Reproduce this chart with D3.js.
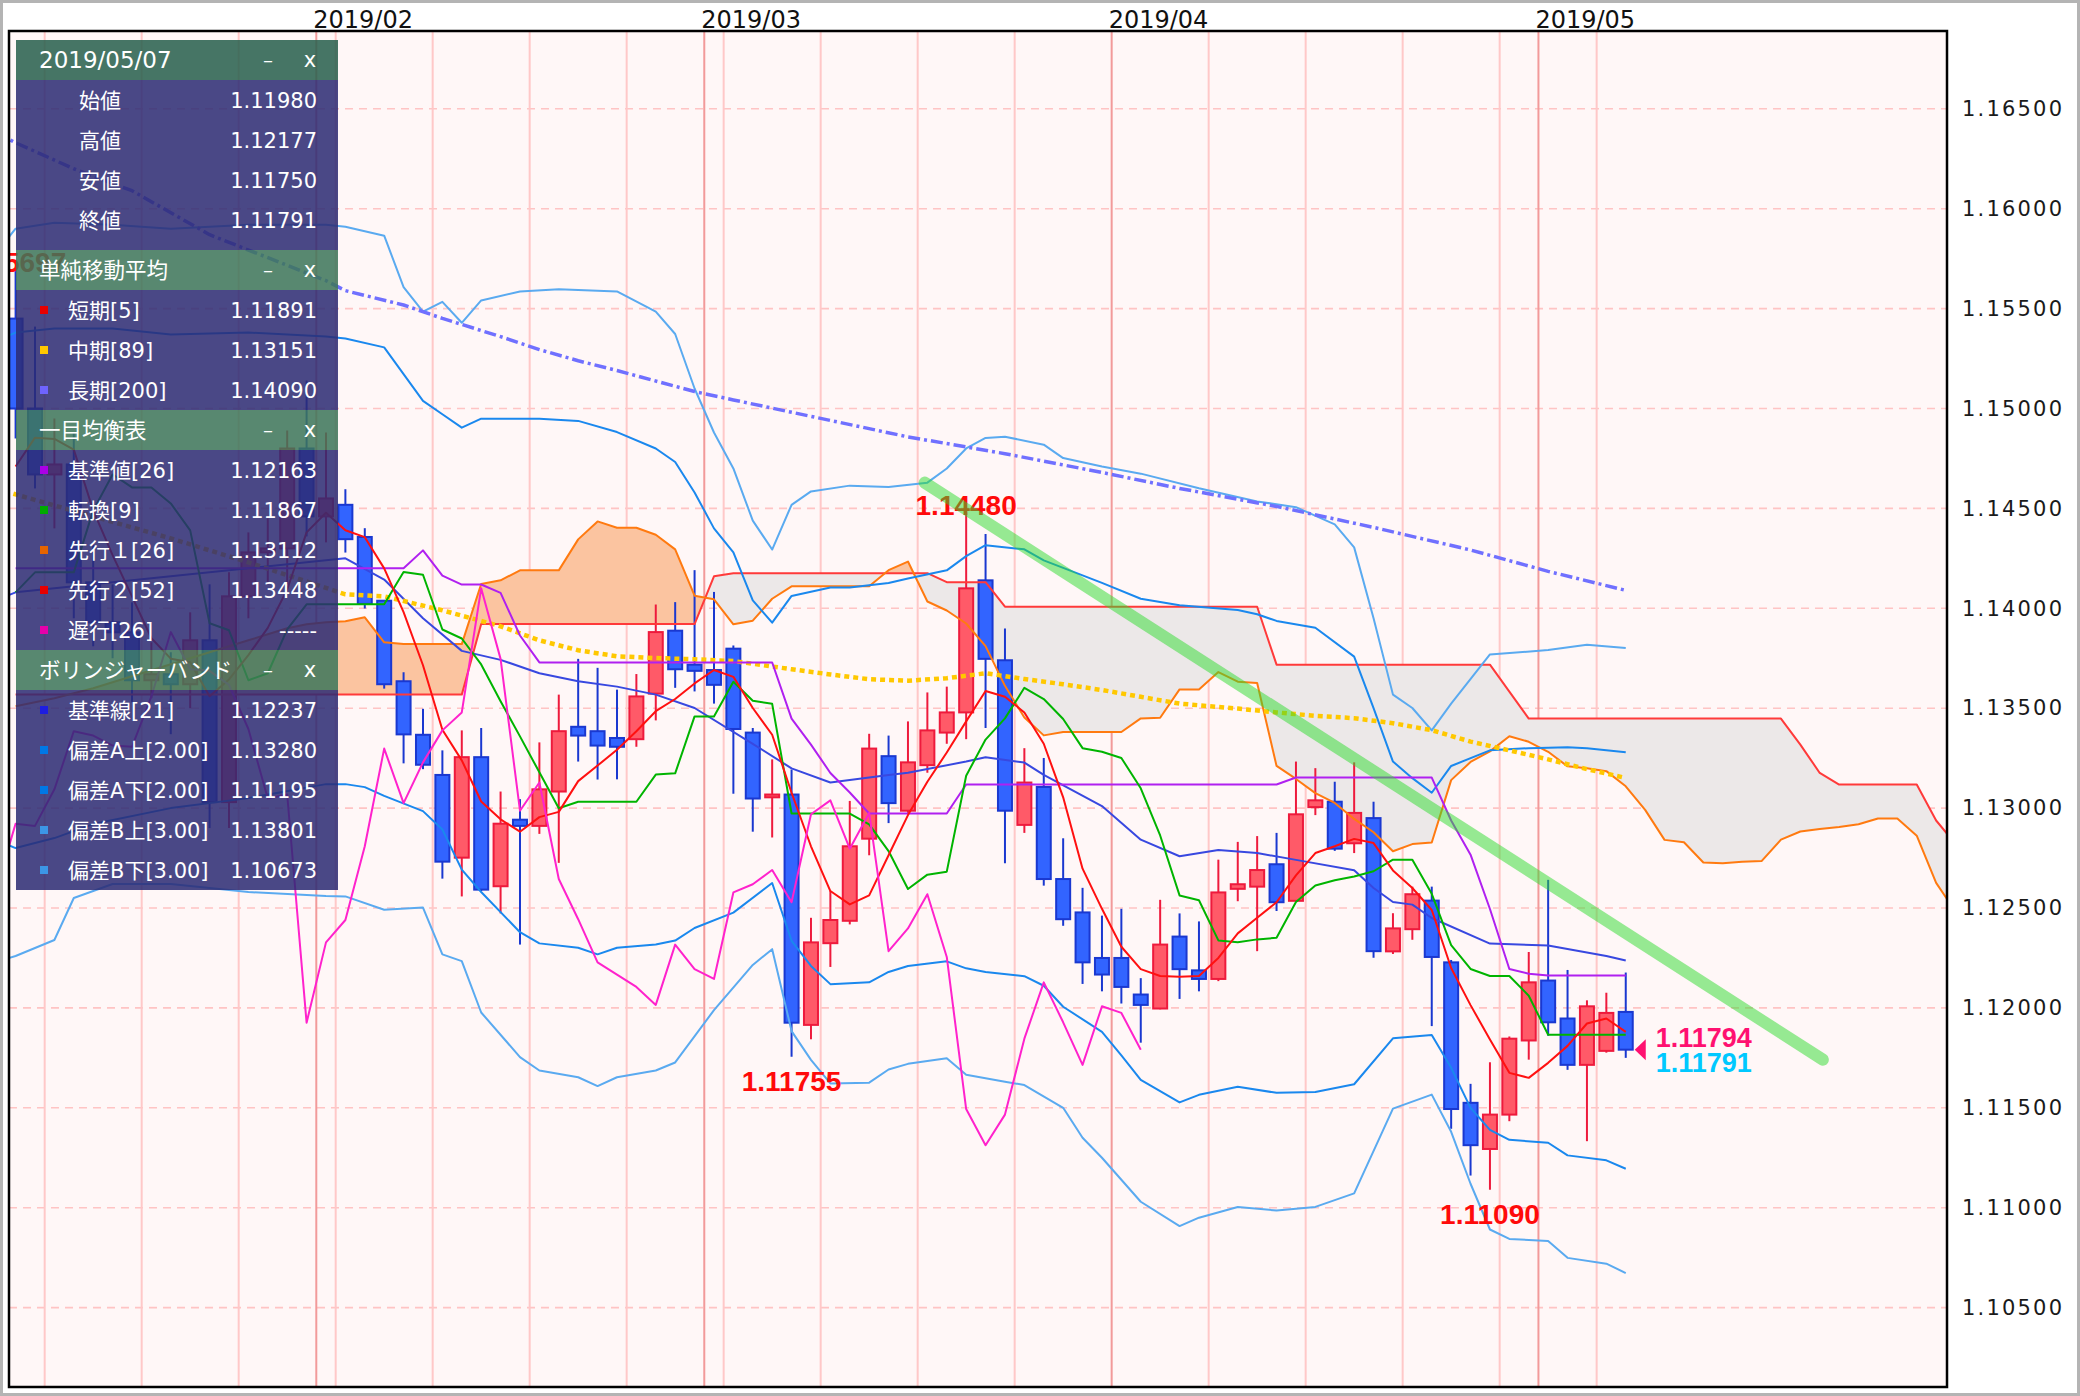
<!DOCTYPE html>
<html>
<head>
<meta charset="utf-8">
<script src="https://cdn.jsdelivr.net/npm/d3@7/dist/d3.min.js"></script>
<style>
html,body{margin:0;padding:0;background:#ffffff;overflow:hidden;}
svg{display:block;}
</style>
</head>
<body>
<svg id="chart" width="2080" height="1396"></svg>
<script>
// ================= DATA =================
const dates = ["2019/01/10","2019/01/11","2019/01/14","2019/01/15","2019/01/16","2019/01/17","2019/01/18","2019/01/21","2019/01/22","2019/01/23","2019/01/24","2019/01/25","2019/01/28","2019/01/29","2019/01/30","2019/01/31","2019/02/01","2019/02/04","2019/02/05","2019/02/06","2019/02/07","2019/02/08","2019/02/11","2019/02/12","2019/02/13","2019/02/14","2019/02/15","2019/02/18","2019/02/19","2019/02/20","2019/02/21","2019/02/22","2019/02/25","2019/02/26","2019/02/27","2019/02/28","2019/03/01","2019/03/04","2019/03/05","2019/03/06","2019/03/07","2019/03/08","2019/03/11","2019/03/12","2019/03/13","2019/03/14","2019/03/15","2019/03/18","2019/03/19","2019/03/20","2019/03/21","2019/03/22","2019/03/25","2019/03/26","2019/03/27","2019/03/28","2019/03/29","2019/04/01","2019/04/02","2019/04/03","2019/04/04","2019/04/05","2019/04/08","2019/04/09","2019/04/10","2019/04/11","2019/04/12","2019/04/15","2019/04/16","2019/04/17","2019/04/18","2019/04/19","2019/04/22","2019/04/23","2019/04/24","2019/04/25","2019/04/26","2019/04/29","2019/04/30","2019/05/01","2019/05/02","2019/05/03","2019/05/06","2019/05/07"];

const opens = [1.15450,1.15000,1.14670,1.14720,1.14130,1.13930,1.13880,1.13640,1.13670,1.13620,
1.13840,1.13030,1.14060,1.14280,1.14300,1.14800,1.14460,1.14518,1.14357,1.14038,
1.13635,1.13367,1.13166,1.12752,1.13255,1.12609,1.12942,1.12911,1.13083,1.13407,
1.13385,1.13351,1.13345,1.13573,1.13888,1.13718,1.13691,1.13798,1.13378,1.13054,
1.13068,1.11915,1.12324,1.12436,1.12847,1.13260,1.12987,1.13215,1.13378,1.13479,
1.14140,1.13740,1.12916,1.13106,1.12645,1.12478,1.12250,1.12250,1.12067,1.11997,
1.12357,1.12188,1.12145,1.12596,1.12607,1.12719,1.12536,1.13005,1.13032,1.12824,
1.12950,1.12283,1.12394,1.12537,1.12228,1.11525,1.11294,1.11466,1.11837,1.12137,
1.11947,1.11715,1.11785,1.11980];

const highs = [1.15697,1.15410,1.14950,1.14880,1.14330,1.14120,1.14030,1.13830,1.13780,1.13980,
1.14120,1.14180,1.14380,1.14450,1.14890,1.15140,1.14880,1.14596,1.14401,1.14040,
1.13680,1.13497,1.13289,1.13389,1.13401,1.13083,1.13045,1.13329,1.13568,1.13747,
1.13702,1.13593,1.13671,1.14019,1.14031,1.14191,1.14082,1.13814,1.13401,1.13244,
1.13193,1.12451,1.12585,1.13036,1.13372,1.13363,1.13434,1.13579,1.13608,1.14480,
1.14372,1.13899,1.13300,1.13251,1.12849,1.12601,1.12462,1.12496,1.12149,1.12541,
1.12473,1.12433,1.12742,1.12831,1.12860,1.12876,1.13233,1.13200,1.13132,1.13229,
1.13032,1.12474,1.12607,1.12607,1.12240,1.11620,1.11728,1.11857,1.12280,1.12641,
1.12190,1.12038,1.12076,1.12177];

const lows = [1.14850,1.14600,1.14400,1.13950,1.13810,1.13750,1.13530,1.13550,1.13370,1.13500,
1.12900,1.12900,1.13950,1.14120,1.14120,1.14360,1.14330,1.14279,1.13999,1.13598,
1.13224,1.13195,1.12647,1.12558,1.12585,1.12473,1.12317,1.12871,1.12726,1.13233,
1.13143,1.13144,1.13307,1.13439,1.13602,1.13584,1.13523,1.13072,1.12882,1.12853,
1.11755,1.11843,1.12205,1.12418,1.12764,1.12925,1.12976,1.13177,1.13322,1.13345,
1.13401,1.12724,1.12876,1.12612,1.12411,1.12120,1.12083,1.12022,1.11826,1.11993,
1.12045,1.12083,1.12134,1.12534,1.12284,1.12485,1.12536,1.12965,1.12786,1.12775,
1.12251,1.12270,1.12341,1.11909,1.11395,1.11161,1.11090,1.11433,1.11741,1.11861,
1.11690,1.11333,1.11776,1.11750];

const closes = [1.15000,1.14670,1.14720,1.14130,1.13930,1.13880,1.13640,1.13670,1.13620,1.13840,
1.13030,1.14060,1.14280,1.14300,1.14800,1.14460,1.14550,1.14346,1.14022,1.13620,
1.13369,1.13217,1.12732,1.13255,1.12592,1.12922,1.12911,1.13094,1.13385,1.13363,
1.13313,1.13307,1.13559,1.13881,1.13695,1.13687,1.13617,1.13396,1.13048,1.13068,
1.11926,1.12328,1.12440,1.12809,1.13298,1.13025,1.13229,1.13389,1.13479,1.14100,
1.13747,1.12987,1.13128,1.12645,1.12444,1.12228,1.12167,1.12105,1.12015,1.12317,
1.12194,1.12145,1.12578,1.12619,1.12690,1.12529,1.12969,1.13039,1.12797,1.12976,
1.12284,1.12398,1.12569,1.12255,1.11494,1.11313,1.11466,1.11846,1.12128,1.11928,
1.11715,1.12008,1.11975,1.11791];

// simple moving average 5 (one value per candle)
const sma5 = [1.14710,1.14854,1.14848,1.14794,1.14490,1.14266,1.14060,1.13850,1.13748,1.13730,
1.13560,1.13644,1.13766,1.13902,1.14094,1.14380,1.14478,1.14391,1.14356,1.14200,
1.13981,1.13715,1.13392,1.13239,1.13033,1.12944,1.12882,1.12955,1.12981,1.13135,
1.13213,1.13292,1.13385,1.13485,1.13546,1.13624,1.13691,1.13657,1.13501,1.13367,
1.13077,1.12809,1.12585,1.12518,1.12563,1.12764,1.12965,1.13132,1.13278,1.13434,
1.13586,1.13557,1.13479,1.13322,1.13054,1.12697,1.12496,1.12306,1.12194,1.12160,
1.12156,1.12160,1.12250,1.12373,1.12451,1.12529,1.12663,1.12775,1.12809,1.12846,
1.12825,1.12688,1.12600,1.12490,1.12200,1.12014,1.11842,1.11675,1.11650,1.11725,
1.11810,1.11922,1.11947,1.11880];

// SMA 89 and SMA 200 : [candle index, value]
const sma89 = [[-1,1.1460],[0,1.1457],[4,1.1446],[8,1.1435],[12,1.1423],[17,1.1407],[19,1.1406],[22,1.1399],[25,1.1391],[27,1.1384],[29,1.1379],[31,1.1376],[33,1.13751],[35,1.13745],[37,1.13736],[40,1.13695],[42,1.13669],[44,1.13645],[46,1.13638],[48,1.13650],[50,1.13675],[52,1.13646],[54,1.13620],[56,1.13591],[58,1.13557],[60,1.13523],[63,1.13498],[65,1.13479],[67,1.13462],[69,1.13450],[71,1.13425],[73,1.13390],[75,1.13333],[77,1.13289],[79,1.13244],[81,1.13195],[83,1.13151]];
const sma200 = [[-1,1.1638],[0,1.1633],[3,1.1620],[6,1.1609],[10,1.1587],[16,1.1564],[17,1.1559],[20,1.15518],[22,1.15451],[25,1.15360],[27,1.15295],[29,1.15239],[31,1.15190],[35,1.15085],[37,1.15043],[46,1.14858],[51,1.14774],[56,1.14680],[60,1.14600],[65,1.14510],[70,1.14405],[75,1.14292],[79,1.14185],[83,1.14090]];

// Ichimoku (per candle)
const tenkan = [1.14080,1.14180,1.14180,1.14180,1.14490,1.14670,1.14605,1.14605,1.14525,1.14390,
1.13925,1.13890,1.13640,1.13675,1.13895,1.14020,1.14020,1.14020,1.14020,1.14020,
1.14182,1.14168,1.13894,1.13849,1.13719,1.13535,1.13359,1.13179,1.12999,1.13032,
1.13032,1.13032,1.13032,1.13168,1.13174,1.13459,1.13459,1.13632,1.13537,1.13522,
1.12973,1.12973,1.12973,1.12973,1.12919,1.12785,1.12595,1.12667,1.12682,1.13162,
1.13343,1.13449,1.13602,1.13546,1.13446,1.13300,1.13282,1.13251,1.13099,1.12863,
1.12563,1.12539,1.12338,1.12329,1.12343,1.12351,1.12530,1.12613,1.12639,1.12658,
1.12684,1.12742,1.12742,1.12571,1.12314,1.12195,1.12160,1.12160,1.12061,1.11866,
1.11866,1.11866,1.11866,1.11866];
const kijun = [1.14200,1.14200,1.14200,1.14200,1.14200,1.14200,1.14200,1.14200,1.14200,1.14200,
1.14200,1.14200,1.14200,1.14200,1.14200,1.14200,1.14200,1.14200,1.14200,1.14200,
1.14200,1.14290,1.14164,1.14119,1.14119,1.14077,1.13864,1.13729,1.13729,1.13729,
1.13729,1.13729,1.13729,1.13729,1.13729,1.13729,1.13729,1.13729,1.13729,1.13729,
1.13448,1.13318,1.13176,1.13078,1.12973,1.12973,1.12973,1.12973,1.12973,1.13118,
1.13118,1.13118,1.13118,1.13118,1.13118,1.13118,1.13118,1.13118,1.13118,1.13118,
1.13118,1.13118,1.13118,1.13118,1.13118,1.13118,1.13153,1.13153,1.13153,1.13153,
1.13153,1.13153,1.13153,1.13153,1.12938,1.12767,1.12495,1.12195,1.12171,1.12162,
1.12162,1.12162,1.12162,1.12162];
// leading spans, plotted from position 0 up to 101 (26 bars ahead)
const senkouA = [1.13510,1.13530,1.13550,1.13575,1.13600,1.13630,1.13660,1.13690,1.13720,1.13750,
1.13780,1.13810,1.13840,1.13870,1.13900,1.13920,1.13930,1.13935,1.13955,1.13830,
1.13821,1.13821,1.13821,1.13821,1.14122,1.14140,1.14190,1.14190,1.14190,1.14345,
1.14435,1.14403,1.14403,1.14368,1.14295,1.14063,1.14045,1.13920,1.13938,1.14048,
1.14110,1.14110,1.14110,1.14110,1.14110,1.14191,1.14234,1.14034,1.13989,1.13924,
1.13811,1.13612,1.13454,1.13364,1.13381,1.13381,1.13381,1.13381,1.13449,1.13452,
1.13594,1.13594,1.13681,1.13633,1.13626,1.13211,1.13146,1.13075,1.13026,1.12946,
1.12879,1.12784,1.12820,1.12828,1.13140,1.13231,1.13284,1.13360,1.13332,1.13282,
1.13209,1.13200,1.13185,1.13109,1.12991,1.12841,1.12829,1.12728,1.12724,1.12731,
1.12735,1.12842,1.12883,1.12896,1.12906,1.12919,1.12948,1.12948,1.12862,1.12626,
1.12481,1.12328];
const senkouB = [1.13568,1.13568,1.13568,1.13568,1.13568,1.13568,1.13568,1.13568,1.13568,1.13568,
1.13568,1.13568,1.13568,1.13568,1.13568,1.13568,1.13568,1.13568,1.13568,1.13568,
1.13568,1.13568,1.13568,1.13568,1.13921,1.13921,1.13921,1.13921,1.13921,1.13921,
1.13921,1.13921,1.13921,1.13921,1.13921,1.13921,1.14160,1.14176,1.14176,1.14176,
1.14176,1.14176,1.14176,1.14176,1.14176,1.14176,1.14176,1.14176,1.14131,1.14131,
1.14131,1.14008,1.14008,1.14008,1.14008,1.14008,1.14008,1.14008,1.14008,1.14008,
1.14008,1.14008,1.14008,1.14008,1.14008,1.13718,1.13718,1.13718,1.13718,1.13718,
1.13718,1.13718,1.13718,1.13718,1.13718,1.13718,1.13718,1.13583,1.13448,1.13448,
1.13448,1.13448,1.13448,1.13448,1.13448,1.13448,1.13448,1.13448,1.13448,1.13448,
1.13448,1.13448,1.13318,1.13176,1.13118,1.13118,1.13118,1.13118,1.13118,1.12938,
1.12821,1.12785];
const chikouShift = 25; // lagging span drawn from closes, shifted back

// Bollinger bands : [candle index, value]
const bbUp3 = [[-1,1.1578],[0,1.1590],[2,1.1593],[5,1.1592],[8,1.1590],[12,1.1592],[16,1.1592],[17,1.1591],[19,1.15865],[20,1.15608],[21,1.15485],[22,1.15534],[23,1.15429],[24,1.15541],[26,1.15586],[28,1.15597],[31,1.15586],[33,1.15485],[34,1.15373],[35,1.15100],[36,1.14880],[37,1.14700],[38,1.14439],[39,1.14294],[40,1.14518],[41,1.14585],[43,1.14614],[45,1.14607],[47,1.14629],[48,1.14700],[49,1.14800],[50,1.14853],[51,1.14859],[53,1.14819],[54,1.14752],[56,1.14710],[58,1.14674],[61,1.14601],[64,1.14535],[66,1.14506],[68,1.14420],[69,1.14305],[70,1.13950],[71,1.13568],[72,1.13501],[73,1.13389],[74,1.13523],[76,1.13769],[79,1.13791],[81,1.13818],[83,1.13801]];
const bbUp2 = [[-1,1.1534],[0,1.1538],[2,1.1540],[5,1.1540],[8,1.1537],[12,1.1538],[16,1.1536],[17,1.1535],[19,1.15306],[20,1.15172],[21,1.15038],[22,1.14971],[23,1.14904],[24,1.14949],[27,1.14949],[29,1.14938],[31,1.14882],[33,1.14800],[34,1.14732],[35,1.14580],[36,1.14400],[37,1.14280],[38,1.14040],[39,1.13928],[40,1.14062],[42,1.14104],[43,1.14104],[45,1.14127],[46,1.14149],[48,1.14190],[49,1.14261],[50,1.14316],[52,1.14295],[53,1.14240],[56,1.14127],[58,1.14048],[60,1.14015],[63,1.13992],[64,1.13970],[65,1.13937],[67,1.13903],[69,1.13758],[70,1.13500],[71,1.13233],[72,1.13150],[73,1.13077],[74,1.13211],[76,1.13289],[78,1.13300],[80,1.13304],[81,1.13300],[83,1.13280]];
const bbMid = [[-1,1.1404],[0,1.1408],[4,1.1412],[8,1.1416],[12,1.1420],[16,1.1424],[17,1.14250],[19,1.14144],[21,1.13950],[23,1.13787],[25,1.13742],[27,1.13675],[29,1.13635],[31,1.13608],[33,1.13568],[35,1.13501],[38,1.13322],[40,1.13199],[42,1.13128],[45,1.13166],[46,1.13177],[49,1.13233],[50,1.13255],[52,1.13228],[53,1.13166],[56,1.13010],[58,1.12842],[60,1.12759],[62,1.12790],[64,1.12775],[66,1.12741],[69,1.12689],[70,1.12600],[71,1.12530],[72,1.12517],[73,1.12450],[76,1.12322],[79,1.12312],[82,1.12260],[83,1.12237]];
const bbDn2 = [[-1,1.1284],[0,1.1280],[2,1.1285],[4,1.1292],[8,1.1300],[12,1.1305],[16,1.1312],[17,1.13120],[18,1.13105],[19,1.13061],[21,1.12985],[22,1.12893],[23,1.12692],[24,1.12580],[26,1.12379],[27,1.12323],[29,1.12301],[30,1.12268],[31,1.12301],[33,1.12317],[34,1.12337],[35,1.12400],[37,1.12477],[39,1.12625],[40,1.12336],[41,1.12210],[42,1.12119],[44,1.12128],[45,1.12180],[46,1.12210],[48,1.12233],[49,1.12198],[50,1.12180],[52,1.12159],[53,1.12111],[54,1.12006],[56,1.11880],[57,1.11762],[58,1.11640],[60,1.11527],[61,1.11565],[63,1.11605],[65,1.11575],[67,1.11579],[69,1.11618],[71,1.11848],[73,1.11865],[74,1.11700],[75,1.11500],[76,1.11390],[77,1.11340],[79,1.11325],[80,1.11262],[82,1.11237],[83,1.11195]];
const bbDn3 = [[-1,1.1223],[0,1.1226],[2,1.1234],[3,1.1255],[5,1.1262],[8,1.1262],[12,1.1258],[16,1.1256],[17,1.12558],[19,1.12491],[21,1.12502],[22,1.12268],[23,1.12234],[24,1.11977],[26,1.11754],[27,1.11687],[29,1.11653],[30,1.11609],[31,1.11653],[33,1.11687],[34,1.11727],[36,1.11989],[38,1.12215],[39,1.12294],[40,1.11884],[41,1.11740],[42,1.11622],[44,1.11626],[45,1.11692],[46,1.11720],[48,1.11748],[49,1.11666],[51,1.11631],[52,1.11614],[54,1.11500],[55,1.11350],[56,1.11250],[57,1.11140],[58,1.11030],[60,1.10908],[61,1.10950],[63,1.11004],[65,1.10986],[67,1.11004],[69,1.11072],[71,1.11496],[73,1.11566],[74,1.11380],[75,1.11120],[76,1.10891],[77,1.10844],[79,1.10834],[80,1.10749],[82,1.10720],[83,1.10673]];

// hand-drawn trend line: [candle index, value]
const trendLine = [[46.86,1.14629],[93.16,1.11741]];

// price axis ticks
const yTickValues = [1.105,1.110,1.115,1.120,1.125,1.130,1.135,1.140,1.145,1.150,1.155,1.160,1.165];

// highlighted extremes
const markHighs = [0, 49];
const markLows = [40, 76];
const lastPrices = [{text:"1.11794", color:"#ff1070"}, {text:"1.11791", color:"#00c8ff"}];

// legend panel texts
const legendTitle = "2019/05/07";
const legendOHLC = [["始値","1.11980"],["高値","1.12177"],["安値","1.11750"],["終値","1.11791"]];
const legendSMA = [["短期[5]","#e80000","1.11891"],["中期[89]","#ffc800","1.13151"],["長期[200]","#6e64ff","1.14090"]];
const legendIchi = [["基準値[26]","#aa00e6","1.12163"],["転換[9]","#00aa00","1.11867"],["先行１[26]","#e66400","1.13112"],["先行２[52]","#e60000","1.13448"],["遅行[26]","#e600aa","-----"]];
const legendBB = [["基準線[21]","#1e1ee0","1.12237"],["偏差A上[2.00]","#0078e6","1.13280"],["偏差A下[2.00]","#0078e6","1.11195"],["偏差B上[3.00]","#3c96e6","1.13801"],["偏差B下[3.00]","#3c96e6","1.10673"]];

// ================= DRAW =================
const svg = d3.select('#chart');
const plot = {left:9, top:31, right:1947, bottom:1387};
const x = d3.scaleLinear().domain([-0.34, 99.56]).range([plot.left, plot.right]);
const y = d3.scaleLinear().domain([1.101027, 1.168894]).range([plot.bottom, plot.top]);
const fmt = d3.format('.5f');
const NUMFONT = "'DejaVu Sans', 'Noto Sans CJK JP', sans-serif";

svg.append('rect').attr('width',2080).attr('height',1396).attr('fill','#ffffff');
svg.append('rect').attr('x',1.5).attr('y',1.5).attr('width',2077).attr('height',1393)
  .attr('fill','none').attr('stroke','#b4b4b4').attr('stroke-width',3);
svg.append('rect').attr('x',plot.left).attr('y',plot.top)
  .attr('width',plot.right-plot.left).attr('height',plot.bottom-plot.top).attr('fill','#fff7f7');

const defs = svg.append('defs');
defs.append('clipPath').attr('id','plotClip').append('rect')
  .attr('x',plot.left).attr('y',plot.top).attr('width',plot.right-plot.left).attr('height',plot.bottom-plot.top);

const g = svg.append('g').attr('clip-path','url(#plotClip)');

// horizontal grid
g.selectAll('.hgrid').data(yTickValues).join('line')
  .attr('x1',plot.left).attr('x2',plot.right)
  .attr('y1',d=>y(d)).attr('y2',d=>y(d))
  .attr('stroke','#ffc4c4').attr('stroke-width',1.6).attr('stroke-dasharray','8,6');

// vertical lines: week starts and month starts
const parseDay = s => new Date(s.replace(/\//g,'-') + 'T00:00:00Z');
const vlines = [];
dates.forEach((d,i)=>{
  if (i === 0) return;
  const newMonth = d.slice(5,7) !== dates[i-1].slice(5,7);
  const monday = parseDay(d).getUTCDay() === 1;
  if (newMonth) vlines.push({i, month:true, label:d.slice(0,7)});
  else if (monday) vlines.push({i, month:false});
});
g.selectAll('.vline').data(vlines).join('line')
  .attr('x1',d=>x(d.i-0.5)).attr('x2',d=>x(d.i-0.5))
  .attr('y1',plot.top).attr('y2',plot.bottom)
  .attr('stroke',d=>d.month?'#f29a9a':'#ffc8c8').attr('stroke-width',2);

// cloud
const cloud = senkouA.map((a,p)=>({p, a, b:senkouB[p]}));
defs.append('clipPath').attr('id','aboveB').append('path')
  .attr('d', d3.area().x(d=>x(d.p)).y0(plot.top-20).y1(d=>y(d.b))(cloud));
defs.append('clipPath').attr('id','belowB').append('path')
  .attr('d', d3.area().x(d=>x(d.p)).y0(d=>y(d.b)).y1(plot.bottom+20)(cloud));
const cloudArea = d3.area().x(d=>x(d.p)).y0(d=>y(d.b)).y1(d=>y(d.a));
g.append('g').attr('clip-path','url(#aboveB)').append('path').attr('d',cloudArea(cloud))
  .attr('fill','#fbc4a0');
g.append('g').attr('clip-path','url(#belowB)').append('path').attr('d',cloudArea(cloud))
  .attr('fill','#ece8e8');

// candles
const candles = dates.map((d,i)=>({i, d, o:opens[i], h:highs[i], l:lows[i], c:closes[i]}));
const upFill='#ff5a68', upStroke='#ee1a3c', dnFill='#3264ff', dnStroke='#1a38d0';
g.selectAll('.wick').data(candles).join('line')
  .attr('x1',d=>x(d.i)).attr('x2',d=>x(d.i))
  .attr('y1',d=>y(d.h)).attr('y2',d=>y(d.l))
  .attr('stroke',d=>d.c>=d.o?upStroke:dnStroke).attr('stroke-width',2);
g.selectAll('.body').data(candles).join('rect')
  .attr('x',d=>x(d.i)-7).attr('width',14)
  .attr('y',d=>y(Math.max(d.o,d.c)))
  .attr('height',d=>Math.max(1.5, Math.abs(y(d.o)-y(d.c))))
  .attr('fill',d=>d.c>=d.o?upFill:dnFill)
  .attr('stroke',d=>d.c>=d.o?upStroke:dnStroke).attr('stroke-width',2);

// lines
const lineGen = d3.line().x(d=>x(d[0])).y(d=>y(d[1]));
function drawLine(pts, color, w, dash) {
  const p = g.append('path').attr('d', lineGen(pts)).attr('fill','none')
    .attr('stroke',color).attr('stroke-width',w).attr('stroke-linejoin','round');
  if (dash) p.attr('stroke-dasharray', dash);
  return p;
}
const perIndex = arr => arr.map((v,i)=>[i,v]);

drawLine(perIndex(senkouB), '#ff3a3a', 2);
drawLine(perIndex(senkouA), '#ff7a10', 2);
drawLine(bbUp3, '#5aaaf0', 2);
drawLine(bbDn3, '#5aaaf0', 2);
drawLine(bbUp2, '#1a88ee', 2);
drawLine(bbDn2, '#1a88ee', 2);
drawLine(bbMid, '#3848e0', 2);
drawLine(sma200, '#7070ff', 3.5, '12,4,3,4');
drawLine(sma89, '#ffc800', 4.5, '5,4');
drawLine(perIndex(kijun), '#b020f0', 2);
drawLine(perIndex(tenkan), '#00b400', 2);
drawLine(perIndex(sma5), '#ff1010', 2);
const chikou = closes.map((c,i)=>[i-chikouShift, c]).filter(d=>d[0] >= -1);
drawLine(chikou, '#ff22cc', 2);

// extreme labels
const labFont = "'Liberation Sans', Arial, sans-serif";
g.selectAll('.hlab').data(markHighs).join('text')
  .attr('x',i=>x(i)).attr('y',i=>y(highs[i])+3)
  .attr('text-anchor','middle').attr('font-family',labFont).attr('font-weight','bold')
  .attr('font-size',28).attr('fill','#ff0a0a').text(i=>fmt(highs[i]));
g.selectAll('.llab').data(markLows).join('text')
  .attr('x',i=>x(i)).attr('y',i=>y(lows[i])+34)
  .attr('text-anchor','middle').attr('font-family',labFont).attr('font-weight','bold')
  .attr('font-size',28).attr('fill','#ff0a0a').text(i=>fmt(lows[i]));

// trend line (semi transparent, over the labels)
g.append('path').attr('d', lineGen(trendLine)).attr('fill','none')
  .attr('stroke','#2edc2e').attr('stroke-width',12).attr('stroke-linecap','round')
  .attr('opacity',0.5);

// last price marker
const lastI = closes.length-1;
const ly = y(closes[lastI]);
const lx = x(lastI);
g.append('path').attr('d', `M${lx+9},${ly} L${lx+20},${ly-10.5} L${lx+20},${ly+10.5} Z`).attr('fill','#ff1070');
g.selectAll('.lp').data(lastPrices).join('text')
  .attr('x', lx+30).attr('y',(d,k)=> ly - 3 + k*25)
  .attr('font-family',labFont).attr('font-weight','bold').attr('font-size',27)
  .attr('fill',d=>d.color).text(d=>d.text);

// plot frame
svg.append('rect').attr('x',plot.left).attr('y',plot.top)
  .attr('width',plot.right-plot.left).attr('height',plot.bottom-plot.top)
  .attr('fill','none').attr('stroke','#000').attr('stroke-width',2.5);

// price axis
const yAxis = d3.axisRight(y).tickValues(yTickValues).tickFormat(fmt).tickSize(0).tickPadding(15);
const ya = svg.append('g').attr('transform',`translate(${plot.right},0)`).call(yAxis);
ya.select('.domain').remove();
ya.selectAll('text').attr('font-family',NUMFONT).attr('font-size',21)
  .attr('letter-spacing','2.2px').attr('fill','#1a1a1a');

// month labels on top
svg.selectAll('.mlab').data(vlines.filter(d=>d.month)).join('text')
  .attr('x',d=>x(d.i-0.5)-3).attr('y',28)
  .attr('font-family',NUMFONT).attr('font-size',24).attr('fill','#111')
  .text(d=>d.label);

// ================= LEGEND PANEL =================
const panel = svg.append('g');
const PX = 16, PW = 322;
const hdr1 = '#28604d', hdrN = '#3d765a', bodyC = '#2c2b73', OP = 0.86;
function header(yTop, title, color) {
  panel.append('rect').attr('x',PX).attr('y',yTop).attr('width',PW).attr('height',40)
    .attr('fill',color).attr('opacity',OP);
  panel.append('text').attr('x',39).attr('y',yTop+28).attr('fill','#fff')
    .attr('font-family',NUMFONT).attr('font-size', title===legendTitle?23:21.5).text(title);
  panel.append('text').attr('x',268).attr('y',yTop+27).attr('text-anchor','middle')
    .attr('fill','#fff').attr('font-family',NUMFONT).attr('font-size',20).text('–');
  panel.append('text').attr('x',310).attr('y',yTop+27).attr('text-anchor','middle')
    .attr('fill','#fff').attr('font-family',NUMFONT).attr('font-size',21).text('x');
}
function body(yTop, h, rows, withMarker) {
  panel.append('rect').attr('x',PX).attr('y',yTop).attr('width',PW).attr('height',h)
    .attr('fill',bodyC).attr('opacity',OP);
  rows.forEach((r,k)=>{
    const cy = yTop + 20 + k*40;
    if (withMarker) {
      panel.append('rect').attr('x',40).attr('y',cy-4).attr('width',8).attr('height',8).attr('fill',r[1]);
    }
    panel.append('text').attr('x', withMarker?68:79).attr('y',cy+7.5).attr('fill','#fff')
      .attr('font-family',NUMFONT).attr('font-size',21).text(r[0]);
    panel.append('text').attr('x',317).attr('y',cy+7.5).attr('text-anchor','end').attr('fill','#fff')
      .attr('font-family',NUMFONT).attr('font-size',21).text(withMarker?r[2]:r[1]);
  });
}
header(40, legendTitle, hdr1);
body(80, 170, legendOHLC, false);
header(250, "単純移動平均", hdrN);
body(290, 120, legendSMA, true);
header(410, "一目均衡表", hdrN);
body(450, 200, legendIchi, true);
header(650, "ボリンジャーバンド", hdrN);
body(690, 200, legendBB, true);
</script>
</body>
</html>
